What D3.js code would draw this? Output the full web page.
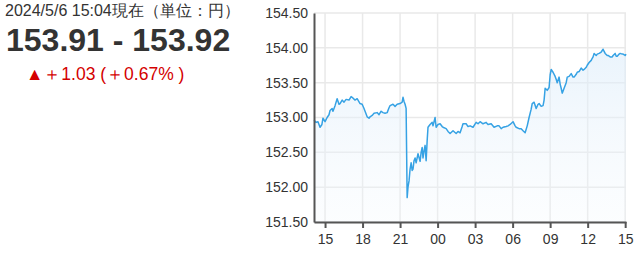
<!DOCTYPE html>
<html lang="ja">
<head>
<meta charset="UTF-8">
<title>USD/JPY</title>
<script src="https://d3js.org/d3.v7.min.js"></script>
<style>
  body { margin: 0; background: #fff; font-family: "Liberation Sans", Arial, sans-serif; }
  .info { position: absolute; left: 0; top: 0; width: 250px; }
  .stamp { position: absolute; left: 5px; top: 1px; font-size: 16px; color: #333; white-space: nowrap; }
  .stamp span { font-size: 15.5px; }
  .price { position: absolute; left: 6px; top: 22px; font-size: 32px; font-weight: bold; color: #333; white-space: nowrap; }
  .change { position: absolute; left: 26px; top: 62px; font-size: 17.5px; color: #d40000; white-space: nowrap; }
  svg { position: absolute; left: 0; top: 0; }
  .grid line { stroke: #e9e9e9; stroke-width: 1.5px; }
  .axis text { font-size: 14px; fill: #333; font-family: "Liberation Sans", Arial, sans-serif; }
  .axis path, .axis line { stroke: #555; stroke-width: 2px; }
</style>
</head>
<body>
<div class="info">
  <div class="stamp">2024/5/6 15:04<span>現在（単位：円）</span></div>
  <div class="price">153.91 - 153.92</div>
  <div class="change">▲＋1.03 (＋0.67% )</div>
</div>
<svg width="637" height="259"></svg>
<script>
// time of each reading (HH:MM, the day rolls over at midnight)
const times = [
  "14:07","14:17","14:26","14:36","14:45","14:50","15:00","15:10","15:19","15:24",
  "15:34","15:38","15:48","15:58","16:07","16:12","16:22","16:31","16:41","16:55",
  "17:05","17:10","17:24","17:34","17:48","17:58","18:07","18:12","18:22","18:31",
  "18:36","18:46","18:55","19:10","19:19","19:29","19:38","19:48","19:58","20:07",
  "20:12","20:26","20:36","20:46","21:00","21:10","21:14","21:19","21:24","21:29",
  "21:34","21:38","21:43","21:48","21:53","21:58","22:02","22:07","22:12","22:17",
  "22:26","22:36","22:41","22:46","22:50","22:55","23:00","23:05","23:10","23:14",
  "23:24","23:34","23:38","23:48","23:53","00:02","00:12","00:22","00:26","00:41",
  "00:50","01:00","01:14","01:29","01:38","01:48","01:58","02:02","02:17","02:26",
  "02:36","02:50","03:05","03:14","03:24","03:38","03:53","04:02","04:17","04:31",
  "04:46","04:55","05:05","05:14","05:29","05:38","05:48","06:02","06:12","06:17",
  "06:31","06:41","06:50","07:00","07:10","07:19","07:29","07:34","07:43","07:53",
  "08:02","08:07","08:17","08:26","08:31","08:36","08:46","08:55","09:00","09:05",
  "09:14","09:24","09:29","09:34","09:43","09:48","09:53","09:58","10:07","10:17",
  "10:22","10:31","10:41","10:50","10:55","11:05","11:10","11:19","11:29","11:38",
  "11:43","11:53","11:58","12:07","12:17","12:22","12:26","12:31","12:41","12:46",
  "12:55","13:05","13:14","13:19","13:24","13:34","13:38","13:48","13:58","14:02",
  "14:12","14:17","14:22","14:31","14:36","14:46","14:50","15:00","15:04"
];

const rates = [
  152.96,152.93,152.94,152.86,152.90,152.99,152.94,153.00,153.04,153.10,
  153.13,153.09,153.17,153.27,153.19,153.20,153.25,153.22,153.26,153.25,
  153.30,153.29,153.25,153.27,153.20,153.19,153.13,153.09,153.01,152.99,
  153.01,153.03,153.06,153.07,153.04,153.09,153.07,153.06,153.07,153.14,
  153.17,153.19,153.16,153.19,153.20,153.22,153.29,153.23,153.19,153.13,
  151.85,152.00,152.09,152.26,152.35,152.24,152.26,152.38,152.42,152.35,
  152.48,152.37,152.50,152.57,152.42,152.52,152.60,152.38,152.67,152.86,
  152.90,152.93,152.88,153.00,152.86,152.90,152.91,152.87,152.86,152.84,
  152.80,152.77,152.81,152.77,152.80,152.78,152.87,152.91,152.91,152.87,
  152.88,152.86,152.93,152.91,152.94,152.91,152.93,152.90,152.91,152.86,
  152.88,152.88,152.84,152.86,152.87,152.88,152.90,152.94,152.88,152.86,
  152.84,152.84,152.81,152.78,152.88,153.00,153.12,153.20,153.22,153.13,
  153.19,153.20,153.16,153.17,153.25,153.42,153.39,153.43,153.61,153.69,
  153.65,153.59,153.55,153.50,153.58,153.48,153.42,153.35,153.42,153.50,
  153.58,153.59,153.63,153.58,153.58,153.62,153.65,153.66,153.71,153.68,
  153.69,153.72,153.75,153.79,153.82,153.85,153.87,153.92,153.89,153.91,
  153.92,153.94,153.98,153.95,153.92,153.89,153.89,153.87,153.87,153.89,
  153.92,153.88,153.88,153.91,153.92,153.91,153.91,153.89,153.91
];

const yTicks = [151.5, 152, 152.5, 153, 153.5, 154, 154.5];

// build dates, adding a day whenever the clock wraps
const base = new Date(2024, 4, 5);
function toDates(list) {
  let day = 0, prev = -1;
  return list.map(t => {
    const [h, m] = t.split(":").map(Number);
    const mins = h * 60 + m;
    if (mins < prev) day++;
    prev = mins;
    return new Date(base.getTime() + (day * 1440 + mins) * 60000);
  });
}
const dates = toDates(times);
const data = dates.map((d, i) => ({ t: d, v: rates[i] }));

const margin = { left: 314, right: 11, top: 13, bottom: 37 };
const width = 637, height = 259;
const svg = d3.select("svg");

const x = d3.scaleTime().domain(d3.extent(dates)).range([margin.left, width - margin.right]);
const y = d3.scaleLinear().domain([151.5, 154.5]).range([height - margin.bottom, margin.top]);
const xTicks = x.ticks(d3.timeHour.every(3));

const defs = svg.append("defs");
const grad = defs.append("linearGradient").attr("id", "fill").attr("x1", 0).attr("y1", 0).attr("x2", 0).attr("y2", 1);
grad.append("stop").attr("offset", "0%").attr("stop-color", "#dcecfa").attr("stop-opacity", 0.6);
grad.append("stop").attr("offset", "100%").attr("stop-color", "#f2f8fd").attr("stop-opacity", 0.25);

// grid
const grid = svg.append("g").attr("class", "grid");
grid.selectAll("line.h").data(yTicks).enter().append("line").attr("class", "h")
  .attr("x1", margin.left).attr("x2", width - margin.right)
  .attr("y1", d => y(d)).attr("y2", d => y(d));
grid.selectAll("line.v").data(xTicks).enter().append("line").attr("class", "v")
  .attr("x1", d => x(d)).attr("x2", d => x(d))
  .attr("y1", margin.top).attr("y2", height - margin.bottom);

// area + line
const area = d3.area().x(d => x(d.t)).y0(y(151.5)).y1(d => y(d.v));
svg.append("path").datum(data).attr("d", area).attr("fill", "url(#fill)");

const line = d3.line().x(d => x(d.t)).y(d => y(d.v));
svg.append("path").datum(data).attr("d", line)
  .attr("fill", "none").attr("stroke", "#36a2e4").attr("stroke-width", 1.5)
  .attr("stroke-linejoin", "round");

// axes
svg.append("g").attr("class", "axis")
  .attr("transform", `translate(${margin.left},0)`)
  .call(d3.axisLeft(y).tickValues(yTicks).tickFormat(d3.format(".2f")).tickSize(0).tickPadding(6));

const xAxis = svg.append("g").attr("class", "axis")
  .attr("transform", `translate(0,${height - margin.bottom})`)
  .call(d3.axisBottom(x).tickValues(xTicks).tickFormat(d3.timeFormat("%H")).tickSizeInner(6).tickSizeOuter(0).tickPadding(6));
xAxis.selectAll("line").attr("stroke-width", 1.5);
</script>
</body>
</html>
